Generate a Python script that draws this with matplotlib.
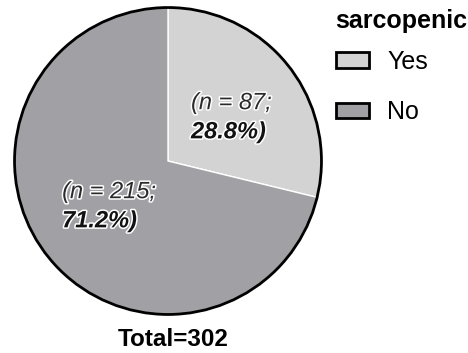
import matplotlib.pyplot as plt
import matplotlib.patheffects as pe
from matplotlib.patches import Circle, Patch

plt.rcParams['font.family'] = ['Liberation Sans', 'DejaVu Sans']

# data
categories = ['Yes', 'No']
counts = [87, 215]
colors = ['#d3d3d3', '#a1a1a5']
total = sum(counts)

fig = plt.figure(figsize=(4.68, 3.53), dpi=100)
ax = fig.add_axes([13 / 468, 37 / 353, 310 / 468, 310 / 353])

wedges, _ = ax.pie(counts, colors=colors, startangle=90, counterclock=False,
                   radius=1, wedgeprops=dict(edgecolor='white', linewidth=1))
ax.add_patch(Circle((0, 0), 1, fill=False, edgecolor='black', linewidth=2))
ax.set_xlim(-1.01, 1.01)
ax.set_ylim(-1.01, 1.01)
ax.set_aspect('equal')
ax.axis('off')

halo = [pe.withStroke(linewidth=2.2, foreground='white')]
# slice labels, positions in axes units
label_pos = [(0.15, 0.38), (-0.69, -0.20)]
for n, (x, y) in zip(counts, label_pos):
    pct = n / total * 100
    ax.text(x, y, f'(n = {n};', fontsize=17, style='italic', color='#2a2a2a',
            ha='left', va='center', path_effects=halo)
    ax.text(x, y - 0.19, f'{pct:.1f}%)', fontsize=17, style='italic',
            fontweight='bold', color='#111111', ha='left', va='center',
            path_effects=halo)

fig.text(173 / 468, 1 - 340 / 353, f'Total={total}', fontsize=17.5,
         fontweight='bold', ha='center', va='center')

# legend title drawn separately so the gap to the entries can be set
fig.text(335 / 468, 1 - 21 / 353, 'sarcopenic', fontsize=18,
         fontweight='bold', ha='left', va='center')
handles = [Patch(facecolor=c, edgecolor='black', linewidth=2) for c in colors]
leg = fig.legend(handles, categories, loc='upper left',
                 bbox_to_anchor=(336 / 468, 1 - 50 / 353), frameon=False,
                 fontsize=18, handlelength=1.3,
                 handleheight=0.6, labelspacing=1.05, handletextpad=0.75,
                 borderpad=0, borderaxespad=0)

fig.savefig('out.png', dpi=100)
